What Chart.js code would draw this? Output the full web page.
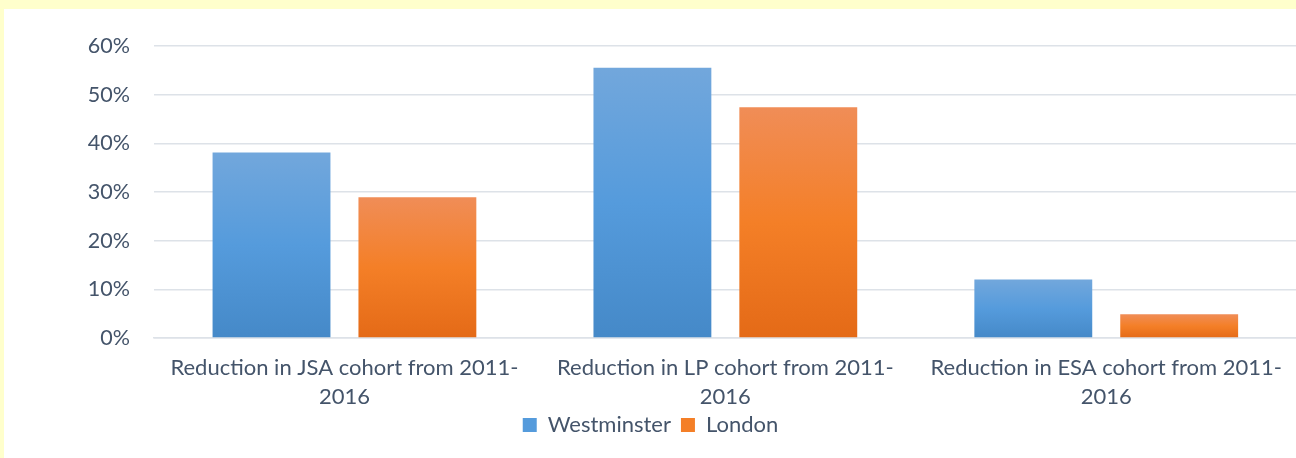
<!DOCTYPE html>
<html>
<head>
<meta charset="utf-8">
<script src="https://cdn.jsdelivr.net/npm/chart.js@4.4.1/dist/chart.umd.min.js"></script>
<style>
  html, body { margin: 0; padding: 0; background: #FFFFCC; width: 1296px; height: 458px; overflow: hidden; }
  #wrap { position: absolute; left: 4px; top: 9px; width: 1293px; height: 449px; background: #FFFFFF; overflow: hidden; }
  canvas { display: block; }
</style>
</head>
<body>
<div id="wrap"><canvas id="c" width="1293" height="449"></canvas></div>
<script>
const categories = [
  ["Reduction in JSA cohort from 2011-", "2016"],
  ["Reduction in LP cohort from 2011-", "2016"],
  ["Reduction in ESA cohort from 2011-", "2016"]
];
const seriesNames = ["Westminster", "London"];
const westminster = [0.381, 0.555, 0.120];
const london = [0.289, 0.474, 0.049];
const yTicks = [0, 0.1, 0.2, 0.3, 0.4, 0.5, 0.6];

const FONT = "Lato, 'Open Sans', sans-serif";
const TXT = "#44546A";

function grad(stops) {
  return function (ctx) {
    const chart = ctx.chart;
    if (ctx.type !== 'data' || !chart.chartArea) return stops[1];
    const y = chart.scales.y;
    const top = y.getPixelForValue(ctx.raw);
    const bot = y.getPixelForValue(0);
    if (!isFinite(top) || top === bot) return stops[1];
    const g = chart.ctx.createLinearGradient(0, top, 0, bot);
    g.addColorStop(0, stops[0]);
    g.addColorStop(0.5, stops[1]);
    g.addColorStop(1, stops[2]);
    return g;
  };
}

new Chart(document.getElementById('c'), {
  type: 'bar',
  data: {
    labels: categories,
    datasets: [
      { label: seriesNames[0], data: westminster, backgroundColor: grad(["#72A7DC", "#559BDC", "#4589C8"]), borderWidth: 0,
        categoryPercentage: 0.766, barPercentage: 0.808 },
      { label: seriesNames[1], data: london, backgroundColor: grad(["#F08D57", "#F47F27", "#E46A17"]), borderWidth: 0,
        categoryPercentage: 0.766, barPercentage: 0.808 }
    ]
  },
  options: {
    responsive: false,
    animation: false,
    layout: { padding: { top: 32, left: 0, right: 0, bottom: 12 } },
    plugins: {
      tooltip: { enabled: false },
      legend: {
        position: 'bottom',
        labels: {
          font: { family: FONT, size: 22 },
          color: TXT,
          boxWidth: 14,
          boxHeight: 14,
          padding: 10,
          generateLabels: function (chart) {
            const cols = ["#559BDC", "#F47F27"];
            return chart.data.datasets.map((d, i) => ({
              text: d.label, fillStyle: cols[i], strokeStyle: cols[i], lineWidth: 0,
              fontColor: TXT, datasetIndex: i, hidden: false
            }));
          }
        }
      }
    },
    scales: {
      x: {
        grid: { display: false, drawTicks: false },
        border: { display: true, color: "#DDE2E8", width: 1.5 },
        ticks: { font: { family: FONT, size: 22, lineHeight: 1.32 }, color: TXT, padding: 15, maxRotation: 0, autoSkip: false },
        afterFit: function (s) { s.height = 66; }
      },
      y: {
        min: 0, max: 0.6,
        afterBuildTicks: function (s) { s.ticks = yTicks.map(v => ({ value: v })); },
        grid: { color: "#DDE2E8", lineWidth: 1.5, drawTicks: false },
        border: { display: false },
        ticks: {
          font: { family: FONT, size: 21.5 }, color: TXT, padding: 24,
          callback: function (v) { return Math.round(v * 100) + "%"; }
        },
        afterFit: function (s) { s.width = 150; }
      }
    }
  }
});
</script>
</body>
</html>
